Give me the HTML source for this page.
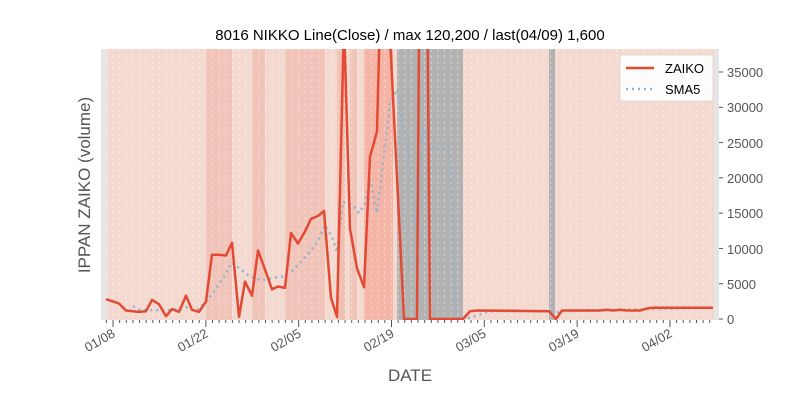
<!DOCTYPE html>
<html><head><meta charset="utf-8"><style>
body{margin:0;background:#fff;}
svg text{font-family:"Liberation Sans","DejaVu Sans",sans-serif;}
</style></head><body>
<svg width="800" height="400" xmlns="http://www.w3.org/2000/svg">
<defs><clipPath id="c"><rect x="101" y="49" width="618" height="271"/></clipPath></defs>
<rect width="800" height="400" fill="#fff"/>
<g>
<rect x="101" y="49" width="618" height="271" fill="#e5e5e5"/>
<rect x="107" y="49" width="607" height="271" fill="#f4d9d0"/>
<rect x="206" y="49" width="26" height="271" fill="#f0c4b8"/>
<rect x="252" y="49" width="13" height="271" fill="#f0c4b8"/>
<rect x="285" y="49" width="40" height="271" fill="#f0c4b8"/>
<rect x="337" y="49" width="8" height="271" fill="#f2bfb3"/>
<rect x="350" y="49" width="7" height="271" fill="#f0c4b8"/>
<rect x="364" y="49" width="29" height="271" fill="#f4b4a6"/>
<rect x="397" y="49" width="66" height="271" fill="#b2b2b2"/>
<rect x="549" y="49" width="6" height="271" fill="#b2b2b2"/>
</g>
<g id="grid" stroke="#fff" stroke-opacity="0.4" stroke-width="1" stroke-dasharray="3,3"></g>
<g clip-path="url(#c)" fill="none">
<polyline id="sma" stroke="#8fb3d0" stroke-width="2.5" stroke-dasharray="2,4" points=""/>
<polyline id="zai" stroke="#e24a33" stroke-width="2.5" stroke-linejoin="round" points=""/>
</g>
<g id="ticks" stroke="#555" stroke-width="1"></g>
<g font-size="13" fill="#555">
<text x="727" y="77">35000</text><text x="727" y="112">30000</text><text x="727" y="148">25000</text>
<text x="727" y="183">20000</text><text x="727" y="218">15000</text><text x="727" y="254">10000</text>
<text x="727" y="289">5000</text><text x="727" y="324">0</text>
<g text-anchor="end">
<text transform="translate(116,336) rotate(-30)">01/08</text>
<text transform="translate(209,336) rotate(-30)">01/22</text>
<text transform="translate(302,336) rotate(-30)">02/05</text>
<text transform="translate(395,336) rotate(-30)">02/19</text>
<text transform="translate(487,336) rotate(-30)">03/05</text>
<text transform="translate(580,336) rotate(-30)">03/19</text>
<text transform="translate(673,336) rotate(-30)">04/02</text>
</g>
</g>
<text x="410" y="40" font-size="15" text-anchor="middle" fill="#000">8016 NIKKO Line(Close) / max 120,200 / last(04/09) 1,600</text>
<text x="410" y="381" font-size="17" text-anchor="middle" fill="#555">DATE</text>
<text transform="translate(90,185) rotate(-90)" font-size="17" text-anchor="middle" fill="#555">IPPAN ZAIKO (volume)</text>
<rect x="620" y="55" width="93" height="46" rx="3" fill="#fff" fill-opacity="0.9" stroke="#ddd"/>
<line x1="626" y1="68" x2="654" y2="68" stroke="#e24a33" stroke-width="2.5"/>
<line x1="626" y1="89" x2="654" y2="89" stroke="#8fb3d0" stroke-width="2.5" stroke-dasharray="2,4"/>
<text x="665" y="73" font-size="13" fill="#000">ZAIKO</text>
<text x="665" y="94" font-size="13" fill="#000">SMA5</text>
</svg>
<script>
var Y=function(v){return 319-v*0.007057;};
var r=[[106,2800],[113,2500],[119,2200],[126,1200],[133,1100],[139,1000],[146,1100],[152,2700],[159,2100],[166,400],[172,1400],[179,1000],[186,3300],[192,1300],[199,1000],[206,2500],[212,9100],[219,9100],[226,9000],[232,10800],[239,300],[245,5300],[252,3300],[258,9700],[265,7000],[272,4200],[278,4600],[285,4400],[291,12200],[298,10700],[305,12400],[311,14200],[318,14600],[324,15300],[331,3000],[337,300],[344,42000],[350,12800],[357,7200],[364,4500],[370,23000],[377,26600],[384,65000],[390,40000],[397,20000],[404,0],[410,0],[417,0],[423,120000],[430,0],[463,0],[470,1100],[477,1200],[549,1100],[556,0],[562,1200],[600,1200],[607,1300],[613,1200],[620,1300],[627,1200],[640,1200],[647,1500],[653,1600],[713,1600]];
var s=[[133,1800],[140,1300],[146,1300],[166,1200],[179,1400],[186,1700],[192,1300],[199,1400],[209,3000],[222,5500],[232,8000],[242,6900],[250,6000],[262,5500],[272,5800],[282,6000],[293,6900],[303,8400],[317,10800],[325,13300],[332,11600],[337,9500],[343,16600],[352,16200],[359,15000],[365,16400],[370,19700],[377,15000],[380,18500],[390,30600],[397,32500],[400,30000],[408,23700],[417,10500],[423,27000],[430,24200],[447,24200],[450,23000],[453,10500],[456,1000],[458,0],[467,100],[477,500],[490,1100],[549,1100],[556,900],[562,1100],[713,1600]];
function pts(a){return a.map(function(p){return p[0]+","+Y(p[1]).toFixed(1);}).join(" ");}
document.getElementById("zai").setAttribute("points",pts(r));
document.getElementById("sma").setAttribute("points",pts(s));
var g=document.getElementById("grid"),t=document.getElementById("ticks"),ns="http://www.w3.org/2000/svg";
function L(p,x1,y1,x2,y2){var l=document.createElementNS(ns,"line");l.setAttribute("x1",x1);l.setAttribute("y1",y1);l.setAttribute("x2",x2);l.setAttribute("y2",y2);p.appendChild(l);}
for(var d=0;d<93;d++){var x=106.4+d*6.63;if(x>714)break;L(g,x,49,x,320);var maj=(d-1)%14==0&&d>=1;L(t,x,320,x,maj?327:323);}
[0,5000,10000,15000,20000,25000,30000,35000].forEach(function(v){L(t,719,Y(v),723,Y(v));});
</script>
</body></html>
